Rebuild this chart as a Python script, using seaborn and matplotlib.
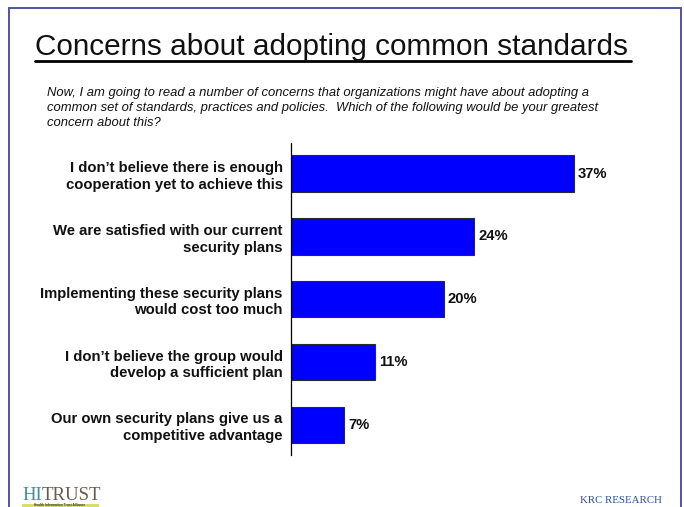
import matplotlib
matplotlib.use("Agg")
import matplotlib.pyplot as plt
import matplotlib.patches as mpatches
from matplotlib.lines import Line2D
import seaborn as sns
import pandas as pd

# ---- data ----
categories = [
    "I don\u2019t believe there is enough\ncooperation yet to achieve this",
    "We are satisfied with our current\nsecurity plans",
    "Implementing these security plans\nwould cost too much",
    "I don\u2019t believe the group would\ndevelop a sufficient plan",
    "Our own security plans give us a\ncompetitive advantage",
]
values = [37, 24, 20, 11, 7]
value_labels = [f"{v}%" for v in values]

title = "Concerns about adopting common standards"
subtitle_lines = [
    "Now, I am going to read a number of concerns that organizations might have about adopting a",
    "common set of standards, practices and policies.  Which of the following would be your greatest",
    "concern about this?",
]

sns.set_style("white")
plt.rcParams["font.family"] = ["Liberation Sans", "DejaVu Sans"]

W, H = 684, 507
fig = plt.figure(figsize=(W / 100, H / 100), dpi=100)
fig.patch.set_facecolor("white")

def fx(px):
    return px / W

def fy(py):
    return 1 - py / H

# axes placement
ax_left, ax_right, ax_top, ax_bot = 291, 673, 143, 455
ax = fig.add_axes([fx(ax_left), fy(ax_bot), fx(ax_right - ax_left), (ax_bot - ax_top) / H])

df = pd.DataFrame({"category": categories, "value": values})
sns.barplot(data=df, x="value", y="category", orient="h", color="#0000FF",
            edgecolor="#2b2b2b", linewidth=0.8, width=0.58, saturation=1, ax=ax)

ax.set_xlim(0, 50)
ax.set_ylim(4.48, -0.486)
ax.set_xlabel("")
ax.set_ylabel("")
ax.set_xticks([])
for s in ["top", "right", "bottom"]:
    ax.spines[s].set_visible(False)
ax.spines["left"].set_color("black")
ax.spines["left"].set_linewidth(0.9)
ax.tick_params(axis="y", length=0, pad=6)
for lbl in ax.get_yticklabels():
    lbl.set_fontweight("bold")
    lbl.set_fontsize(10.7)
    lbl.set_linespacing(1.25)
    lbl.set_color("#111111")

ax.bar_label(ax.containers[0], labels=value_labels, padding=3,
             fontweight="bold", fontsize=10.6, color="#111111")

# title with underline
t = fig.text(fx(35), fy(55), title, fontsize=21.4, color="#111111",
             ha="left", va="baseline")
fig.canvas.draw()
bb = t.get_window_extent(renderer=fig.canvas.get_renderer())
fig.add_artist(Line2D([bb.x0 / W, bb.x1 / W + fx(3)], [fy(60.7), fy(60.7)],
                      color="black", linewidth=2.0, transform=fig.transFigure))

# subtitle
for i, line in enumerate(subtitle_lines):
    fig.text(fx(47), fy(93.5 + i * 15), line, fontsize=9.4, style="italic",
             color="#111111", ha="left", va="center")

# slide border
fig.add_artist(mpatches.Rectangle((fx(9), -0.02), fx(681 - 9), fy(8) + 0.02,
                                  fill=False, edgecolor="#5252a8", linewidth=1.4,
                                  transform=fig.transFigure))

# footer logos as text
serif = ["Liberation Serif", "DejaVu Serif"]
hi = fig.text(fx(22), fy(500), "HI", family=serif,
              fontsize=13.5, color="#3f8e98", ha="left", va="baseline")
fig.canvas.draw()
hb = hi.get_window_extent(renderer=fig.canvas.get_renderer())
fig.text(hb.x1 / W, fy(500), "TRUST", family=serif,
         fontsize=13.5, color="#6a5a4c", ha="left", va="baseline")
fig.add_artist(mpatches.Rectangle((fx(22), 0), fx(77), fy(503.5), facecolor="#d6df6a",
                                  edgecolor="none", transform=fig.transFigure))
fig.text(fx(60), fy(505.4), "Health Information Trust Alliance", fontsize=2.3,
         color="#333333", ha="center", va="center", fontweight="bold")

fig.text(fx(580), fy(503), "KRC RESEARCH", family=serif,
         fontsize=7.8, color="#2d4f9e", ha="left", va="baseline")

fig.savefig("out.png", dpi=100, facecolor="white")
